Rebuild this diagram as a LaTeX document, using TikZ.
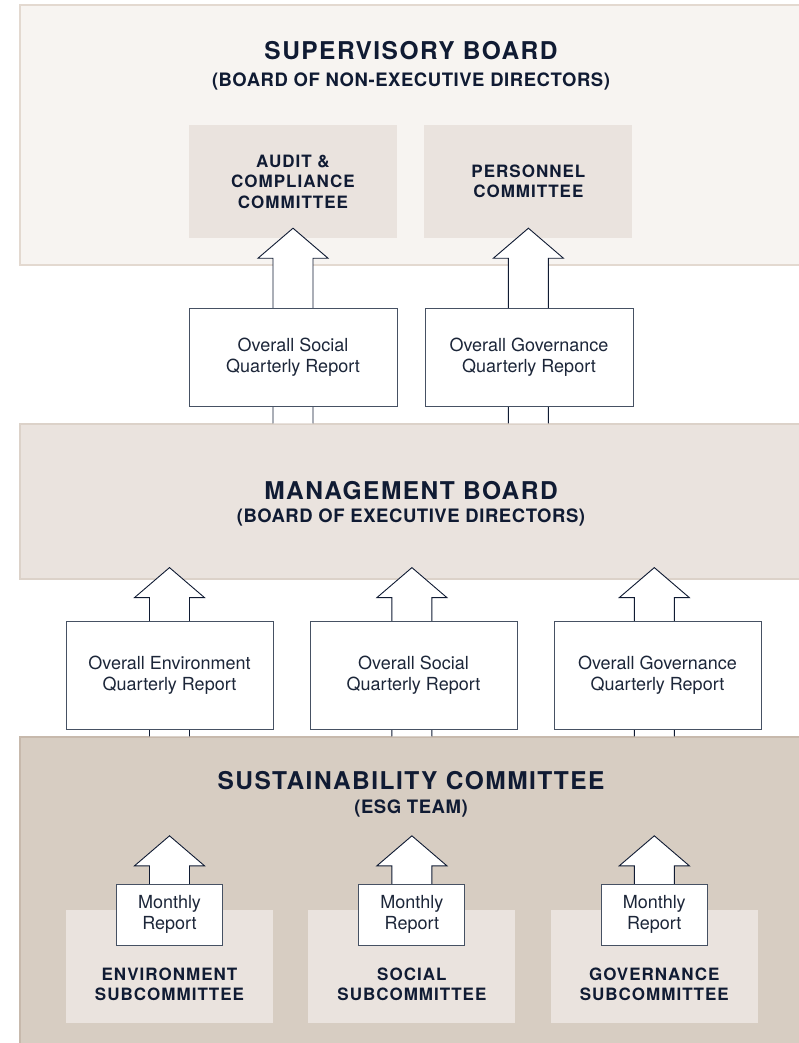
\documentclass[tikz,border=0pt]{standalone}
\usepackage{fontspec}
\setmainfont{TeX Gyre Heros}
\newfontfamily\capsfont[LetterSpace=6]{TeX Gyre Heros}
\newfontfamily\tightcaps[LetterSpace=3]{TeX Gyre Heros}
\usetikzlibrary{calc,positioning}
\definecolor{navyink}{HTML}{101B33}
\definecolor{reportink}{HTML}{1C2639}
\definecolor{reportline}{HTML}{465163}
\definecolor{boardlight}{HTML}{F7F4F1}
\definecolor{boardmid}{HTML}{EAE3DE}
\definecolor{boarddark}{HTML}{D7CDC2}
\definecolor{rimlight}{HTML}{E3D9D0}
\definecolor{rimmid}{HTML}{DCD2C9}
\definecolor{rimdark}{HTML}{C7B9AC}
\tikzset{
  panel/.style={
    rectangle,
    line width=1.2pt,
    inner sep=0pt,
    minimum width=780pt
  },
  title/.style={
    text=navyink,
    font=\capsfont\bfseries\fontsize{24.5}{28}\selectfont
  },
  subtitle/.style={
    text=navyink,
    font=\tightcaps\bfseries\fontsize{18.5}{22}\selectfont
  },
  cmte/.style={
    fill=boardmid,
    inner sep=0pt,
    minimum width=208pt,
    minimum height=113pt
  },
  cmtext/.style={
    align=center,
    text=navyink,
    font=\capsfont\bfseries\fontsize{17}{20.5}\selectfont
  },
  report/.style={
    draw=reportline,
    fill=white,
    line width=1pt,
    align=center,
    inner sep=0pt,
    text=reportink,
    minimum width=208pt,
    minimum height=98pt,
    font=\fontsize{18}{21.5}\selectfont
  },
  fatarrow/.style={
    draw=navyink,
    fill=white,
    line width=0.9pt,
    line join=miter
  }
}
% hollow block arrow: shaft from #1 up to the tip at #2
\newcommand{\fatarrow}[2]{%
  \draw[fatarrow] let \p1=(#1), \p2=(#2) in
    (\x2-20pt,\y1) -- (\x2-20pt,\y2-30pt) -- (\x2-35pt,\y2-30pt) -- (\x2,\y2)
    -- (\x2+35pt,\y2-30pt) -- (\x2+20pt,\y2-30pt) -- (\x2+20pt,\y1);}

\begin{document}
\begin{tikzpicture}[x=1pt,y=-1pt]
\useasboundingbox (0,0) rectangle (798,1043);
% board bands
\node[panel,draw=rimlight,fill=boardlight,minimum height=260pt] (sup) at (410,135) {};
\node[panel,draw=rimmid,fill=boardmid,minimum height=155pt] (mgmt) at (410,501.5) {};
\node[panel,draw=rimdark,fill=boarddark,minimum height=320pt] (sust) at (410,897) {};
\node[title] (supt) at (411,51) {SUPERVISORY BOARD};
\node[subtitle] (supst) at (411,81) {(BOARD OF NON-EXECUTIVE DIRECTORS)};
\node[title] (mgmtt) at (411,491) {MANAGEMENT BOARD};
\node[subtitle] (mgmtst) at (411,517) {(BOARD OF EXECUTIVE DIRECTORS)};
\node[title] (sustt) at (411,781) {SUSTAINABILITY COMMITTEE};
\node[subtitle] (sustst) at (411,808) {(ESG TEAM)};
% committees
\node[cmte] (audit) at (293,181.5) {};
\node[cmte,right=27pt of audit] (pers) {};
\node[cmtext] (auditt) at (audit) {AUDIT \&\\COMPLIANCE\\COMMITTEE};
\node[cmtext] (perst) at (pers) {PERSONNEL\\COMMITTEE};
\node[cmte,minimum width=207pt] (envsub) at (169.5,966.5) {};
\node[cmte,minimum width=207pt,right=35pt of envsub] (socsub) {};
\node[cmte,minimum width=207pt,right=35pt of socsub] (govsub) {};
\node[cmtext] (envsubt) at ($(envsub.south)+(0,-39)$) {ENVIRONMENT\\SUBCOMMITTEE};
\node[cmtext] (socsubt) at ($(socsub.south)+(0,-39)$) {SOCIAL\\SUBCOMMITTEE};
\node[cmtext] (govsubt) at ($(govsub.south)+(0,-39)$) {GOVERNANCE\\SUBCOMMITTEE};
% reporting arrows
\fatarrow{mgmt.north -| audit}{$(audit.south)+(0,-10)$}
\fatarrow{mgmt.north -| pers}{$(pers.south)+(0,-10)$}
\fatarrow{sust.north -| envsub}{$(mgmt.south -| envsub)+(0,-12)$}
\fatarrow{sust.north -| socsub}{$(mgmt.south -| socsub)+(0,-12)$}
\fatarrow{sust.north -| govsub}{$(mgmt.south -| govsub)+(0,-12)$}
\fatarrow{envsub.north}{$(envsub.north)+(0,-74)$}
\fatarrow{socsub.north}{$(socsub.north)+(0,-74)$}
\fatarrow{govsub.north}{$(govsub.north)+(0,-74)$}
% reports
\node[report] (socrep) at (293,357) {Overall Social\\Quarterly Report};
\node[report,right=27pt of socrep] (govrep) {Overall Governance\\Quarterly Report};
\node[report,minimum width=207pt,minimum height=108pt] (envq) at (169.5,675) {Overall Environment\\Quarterly Report};
\node[report,minimum width=207pt,minimum height=108pt,right=36pt of envq] (socq) {Overall Social\\Quarterly Report};
\node[report,minimum width=207pt,minimum height=108pt,right=36pt of socq] (govq) {Overall Governance\\Quarterly Report};
\node[report,minimum width=106pt,minimum height=61pt] (envmon) at ($(envsub)+(0,-52)$) {Monthly\\Report};
\node[report,minimum width=106pt,minimum height=61pt] (socmon) at ($(socsub)+(0,-52)$) {Monthly\\Report};
\node[report,minimum width=106pt,minimum height=61pt] (govmon) at ($(govsub)+(0,-52)$) {Monthly\\Report};
\end{tikzpicture}
\end{document}
